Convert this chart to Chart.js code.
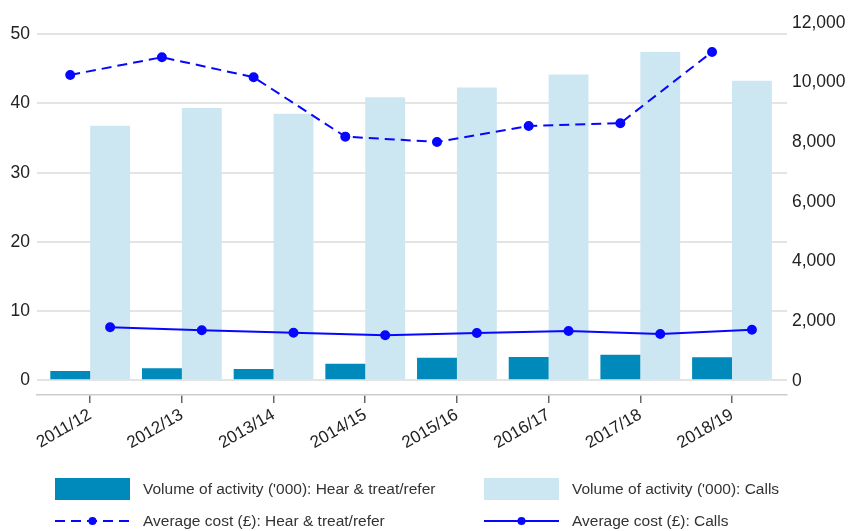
<!DOCTYPE html>
<html>
<head>
<meta charset="utf-8">
<script src="https://cdn.jsdelivr.net/npm/chart.js@4.4.1/dist/chart.umd.min.js"></script>
<style>
  body { margin: 0; background: #fff; font-family: "Liberation Sans", Arial, sans-serif; }
  #wrap { position: relative; width: 850px; height: 531px; }
  #legend { position: absolute; left: 0; top: 0; width: 850px; height: 531px; pointer-events: none; }
  .item { position: absolute; display: flex; align-items: center; font-size: 15.5px; color: #333; white-space: nowrap; }
  .item .sw { width: 75px; height: 22px; margin-right: 13px; }
</style>
</head>
<body>
<div id="wrap">
  <canvas id="grafico" width="850" height="531"></canvas>
  <div id="legend"></div>
</div>
<script>
const anos = ['2011/12', '2012/13', '2013/14', '2014/15', '2015/16', '2016/17', '2017/18', '2018/19'];

// volume ('000), left axis
const volumeHearTreat = [1.35, 1.73, 1.63, 2.4, 3.28, 3.37, 3.71, 3.32];
const volumeCalls = [36.8, 39.35, 38.5, 40.9, 42.3, 44.2, 47.45, 43.3];

// average cost (£), right axis
const custoHearTreat = [10258, 10852, 10181, 8188, 8010, 8547, 8638, 11030];
const custoCalls = [1792, 1691, 1611, 1523, 1601, 1668, 1567, 1711];

// tick labels
const ticksVolume = [0, 10, 20, 30, 40, 50];
const ticksCusto = [0, 2000, 4000, 6000, 8000, 10000, 12000];

const nomes = [
  "Volume of activity ('000): Hear & treat/refer",
  "Volume of activity ('000): Calls",
  "Average cost (£): Hear & treat/refer",
  "Average cost (£): Calls"
];

const corEscura = '#008abb';
const corClara = '#cde7f2';
const corLinha = '#0707ff';
const fonte = '"Liberation Sans", Arial, sans-serif';

const larguraGrupo = 0.87;
const desvio = larguraGrupo / 4; // line points sit on the centre of each bar

function pontos(valores, d) {
  return valores.map((v, i) => ({ x: i + d, y: v }));
}

const ctx = document.getElementById('grafico');

new Chart(ctx, {
  type: 'bar',
  data: {
    datasets: [
      {
        type: 'line',
        label: nomes[2],
        data: pontos(custoHearTreat, -desvio),
        borderColor: corLinha,
        backgroundColor: corLinha,
        borderWidth: 2,
        borderDash: [10, 6],
        pointRadius: 4,
        pointBackgroundColor: corLinha,
        pointBorderColor: corLinha,
        tension: 0,
        yAxisID: 'y1',
        order: 0
      },
      {
        type: 'line',
        label: nomes[3],
        data: pontos(custoCalls, desvio),
        borderColor: corLinha,
        backgroundColor: corLinha,
        borderWidth: 2,
        pointRadius: 4,
        pointBackgroundColor: corLinha,
        pointBorderColor: corLinha,
        tension: 0,
        yAxisID: 'y1',
        order: 0
      },
      {
        label: nomes[0],
        data: pontos(volumeHearTreat, 0),
        backgroundColor: corEscura,
        categoryPercentage: larguraGrupo,
        barPercentage: 1,
        yAxisID: 'y',
        order: 1
      },
      {
        label: nomes[1],
        data: pontos(volumeCalls, 0),
        backgroundColor: corClara,
        categoryPercentage: larguraGrupo,
        barPercentage: 1,
        yAxisID: 'y',
        order: 1
      }
    ]
  },
  options: {
    responsive: false,
    animation: false,
    devicePixelRatio: 1,
    layout: { padding: { top: 23, right: 0, bottom: 66, left: 0 } },
    plugins: {
      legend: { display: false },
      tooltip: { enabled: false }
    },
    scales: {
      x: {
        type: 'linear',
        offset: false,
        min: -0.58,
        max: 7.6,
        afterBuildTicks: s => { s.ticks = anos.map((a, i) => ({ value: i })); },
        afterFit: s => { s.height = 70; },
        grid: { offset: false, drawOnChartArea: false, drawTicks: true, tickLength: 8, color: '#666', lineWidth: 1.5 },
        border: { color: '#cccccc', width: 1.5 },
        ticks: {
          autoSkip: false,
          maxRotation: 30,
          minRotation: 30,
          padding: 2,
          color: '#222',
          font: { family: fonte, size: 17 },
          callback: v => anos[v]
        }
      },
      y: {
        type: 'linear',
        position: 'left',
        min: -2.12,
        max: 51.63,
        afterBuildTicks: s => { s.ticks = ticksVolume.map(v => ({ value: v })); },
        afterFit: s => { s.width = 37; },
        grid: { color: '#e4e4e4', lineWidth: 2, drawTicks: false },
        border: { display: false },
        ticks: {
          padding: 7,
          color: '#222',
          font: { family: fonte, size: 17.5 }
        }
      },
      y1: {
        type: 'linear',
        position: 'right',
        min: -480,
        max: 12000,
        afterBuildTicks: s => { s.ticks = ticksCusto.map(v => ({ value: v })); },
        afterFit: s => { s.width = 63; },
        grid: { display: false, drawTicks: false },
        border: { display: false },
        ticks: {
          padding: 5,
          color: '#222',
          font: { family: fonte, size: 17.5 },
          callback: v => v.toLocaleString('en-US')
        }
      }
    }
  }
});

// legend in two aligned columns
const legenda = document.getElementById('legend');
const posicoes = [
  { x: 55, y: 478, tipo: 'caixa', cor: corEscura },
  { x: 484, y: 478, tipo: 'caixa', cor: corClara },
  { x: 55, y: 510, tipo: 'tracejado', cor: corLinha },
  { x: 484, y: 510, tipo: 'linha', cor: corLinha }
];
posicoes.forEach((p, i) => {
  const item = document.createElement('div');
  item.className = 'item';
  item.style.left = p.x + 'px';
  item.style.top = p.y + 'px';
  let sw;
  if (p.tipo === 'caixa') {
    sw = `<div class="sw" style="background:${p.cor}"></div>`;
  } else {
    const dash = p.tipo === 'tracejado' ? 'stroke-dasharray="10 6"' : '';
    sw = `<svg class="sw" width="75" height="22" viewBox="0 0 75 22">
      <line x1="0" y1="11" x2="75" y2="11" stroke="${p.cor}" stroke-width="2" ${dash}/>
      <circle cx="37.5" cy="11" r="4" fill="${p.cor}"/></svg>`;
  }
  item.innerHTML = sw + `<span>${nomes[i]}</span>`;
  legenda.appendChild(item);
});
</script>
</body>
</html>
